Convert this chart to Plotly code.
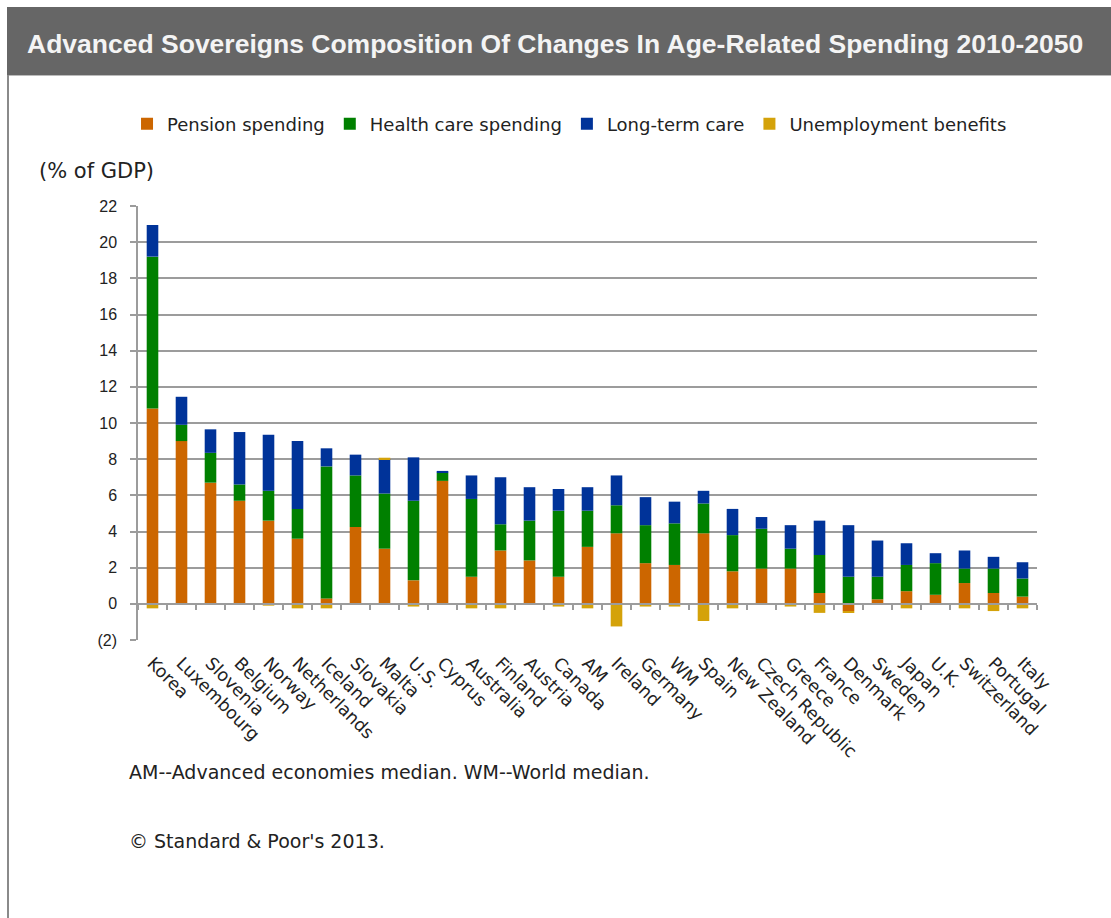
import plotly.graph_objects as go

countries = ["Korea", "Luxembourg", "Slovenia", "Belgium", "Norway", "Netherlands", "Iceland",
             "Slovakia", "Malta", "U.S.", "Cyprus", "Australia", "Finland", "Austria", "Canada",
             "AM", "Ireland", "Germany", "WM", "Spain", "New Zealand", "Czech Republic", "Greece",
             "France", "Denmark", "Sweden", "Japan", "U.K.", "Switzerland", "Portugal", "Italy"]
pension = [10.8, 9.0, 6.7, 5.7, 4.6, 3.6, 0.3, 4.25, 3.05, 1.3, 6.8, 1.5, 2.95, 2.4, 1.5, 3.15,
           3.9, 2.25, 2.15, 3.9, 1.8, 1.95, 1.95, 0.6, -0.4, 0.25, 0.7, 0.5, 1.15, 0.6, 0.4]
health = [8.4, 0.9, 1.65, 0.9, 1.65, 1.65, 7.3, 2.85, 3.05, 4.4, 0.45, 4.3, 1.45, 2.2, 3.65, 2.0,
          1.55, 2.1, 2.3, 1.65, 2.0, 2.2, 1.1, 2.1, 1.5, 1.25, 1.45, 1.75, 0.8, 1.35, 1.0]
long_term = [1.75, 1.55, 1.3, 2.9, 3.1, 3.75, 1.0, 1.15, 1.9, 2.4, 0.1, 1.3, 2.6, 1.85, 1.2, 1.3,
             1.65, 1.55, 1.2, 0.7, 1.45, 0.65, 1.3, 1.9, 2.85, 2.0, 1.2, 0.55, 1.0, 0.65, 0.9]
unemployment = [-0.25, 0, 0, 0, -0.1, -0.25, -0.25, 0, 0.08, -0.15, 0, -0.25, -0.25, 0, -0.15, -0.25,
                -1.25, -0.15, -0.15, -0.95, -0.25, 0, -0.15, -0.5, -0.07, 0, -0.25, 0, -0.25, -0.4, -0.25]

series_names = ["Pension spending", "Health care spending", "Long-term care", "Unemployment benefits"]
series_colors = ["#CC6600", "#008000", "#003399", "#D4A20A"]
y_ticks = [-2, 0, 2, 4, 6, 8, 10, 12, 14, 16, 18, 20, 22]
y_tick_text = ["(2)", "0", "2", "4", "6", "8", "10", "12", "14", "16", "18", "20", "22"]

FONT = "Liberation Sans, Arial, sans-serif"
WIDE = "DejaVu Sans, Verdana, sans-serif"
GRID = "#9c9c9c"
TXT = "#222222"

fig = go.Figure()
for name, vals, col in zip(series_names, [pension, health, long_term, unemployment], series_colors):
    fig.add_trace(go.Bar(name=name, x=countries, y=vals, marker=dict(color=col, line=dict(width=0))))

# invisible helper trace carrying the zero-line category axis with boundary ticks
fig.add_trace(go.Scatter(x=countries, y=[0] * len(countries), xaxis="x2", mode="markers",
                         marker=dict(opacity=0), showlegend=False, hoverinfo="skip"))

W, H = 1111, 918
L, R, T, B = 138, 1037, 206, 640


def px(x):
    return (x - L) / (R - L)


def py(y):
    return (B - y) / (B - T)


ymin, ymax = -2, 22
fig.update_layout(
    width=W, height=H,
    margin=dict(l=L, r=W - R, t=T, b=H - B),
    paper_bgcolor="white", plot_bgcolor="white",
    barmode="relative", bargap=0.6,
    font=dict(family=FONT, color=TXT),
    legend=dict(orientation="h", x=0.48, xanchor="center", y=py(124), yanchor="middle",
                font=dict(size=18, color=TXT, family=WIDE), traceorder="normal",
                itemwidth=30, bgcolor="rgba(0,0,0,0)"),
    xaxis=dict(type="category", categoryorder="array", categoryarray=countries,
               range=[-0.5, len(countries) - 0.5], showgrid=False, showline=False,
               zeroline=False, ticks="outside", ticklen=5, tickcolor="rgba(0,0,0,0)",
               tickangle=45, tickfont=dict(size=17.5, color=TXT, family=WIDE)),
    xaxis2=dict(type="category", categoryorder="array", categoryarray=countries,
                overlaying="x", anchor="free", position=(0 - ymin) / (ymax - ymin),
                range=[-0.5, len(countries) - 0.5], showgrid=False, showline=True,
                linecolor=GRID, linewidth=1.5, ticks="outside", tickson="boundaries",
                ticklen=5, tickcolor=GRID, tickwidth=1.5, showticklabels=False, zeroline=False),
    yaxis=dict(range=[ymin, ymax], tickvals=y_ticks, ticktext=y_tick_text,
               showgrid=True, gridcolor=GRID, gridwidth=1.5, zeroline=False,
               showline=True, linecolor=GRID, linewidth=1.5,
               ticks="outside", ticklen=6, tickcolor=GRID, tickwidth=1.5,
               ticklabelstandoff=10, tickfont=dict(size=16, color=TXT)),
    shapes=[
        dict(type="rect", xref="paper", yref="paper", x0=px(7), x1=px(1115), y0=py(75), y1=py(7),
             fillcolor="#666666", line=dict(width=0), layer="above"),
        dict(type="line", xref="paper", yref="paper", x0=px(7), x1=px(1115), y0=py(75.5), y1=py(75.5),
             line=dict(color="#bbbbbb", width=1)),
        dict(type="line", xref="paper", yref="paper", x0=px(8), x1=px(8), y0=py(75), y1=py(925),
             line=dict(color="#8a8a8a", width=2)),
    ],
    annotations=[
        dict(text="<b>Advanced Sovereigns Composition Of Changes In Age-Related Spending 2010-2050</b>",
             xref="paper", yref="paper", x=px(25), y=py(44), xanchor="left", yanchor="middle",
             showarrow=False, font=dict(size=26.5, color="#f4f4f4", family=FONT)),
        dict(text="(% of GDP)", xref="paper", yref="paper", x=px(37), y=py(171),
             xanchor="left", yanchor="middle", showarrow=False,
             font=dict(size=21, color=TXT, family=WIDE)),
        dict(text="AM--Advanced economies median. WM--World median.", xref="paper", yref="paper",
             x=px(127), y=py(772), xanchor="left", yanchor="middle", showarrow=False,
             font=dict(size=19, color=TXT, family=WIDE)),
        dict(text="© Standard & Poor's 2013.", xref="paper", yref="paper",
             x=px(127), y=py(841), xanchor="left", yanchor="middle", showarrow=False,
             font=dict(size=19, color=TXT, family=WIDE)),
    ],
)

fig.write_html("out.html", config={"displayModeBar": False},
               post_script="document.body.style.margin='0px';")
